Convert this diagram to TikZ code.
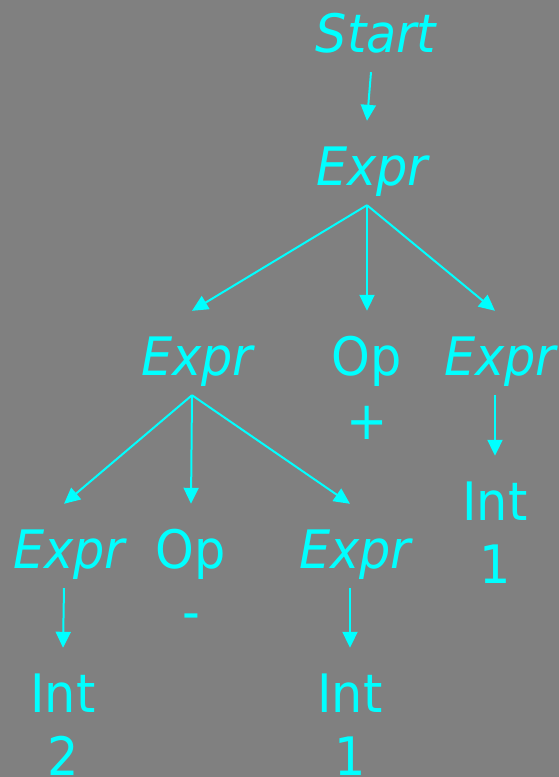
\documentclass[tikz,border=0pt]{standalone}
\usepackage{fontspec}
\setmainfont{DejaVu Sans}[FakeStretch=0.93]
\usetikzlibrary{arrows.meta}
\definecolor{bg}{HTML}{808080}
\definecolor{ink}{HTML}{00FFFF}
\begin{document}
\begin{tikzpicture}[x=1pt,y=-1pt,
  lbl/.style={anchor=base, inner xsep=0pt, inner ysep=20pt, text height=44pt,
    text depth=0pt, text=ink, font=\fontsize{53}{63}\selectfont},
  % slanted labels sit a little right of their edge anchor
  nterm/.style={lbl, font=\fontsize{53}{63}\selectfont\itshape,
    execute at begin node=\hspace*{10pt}},
  edge/.style={draw=ink, line width=2pt, -{Triangle[length=16pt,width=15pt]}}]
\useasboundingbox (0,0) rectangle (559,777);
\fill[bg] (0,0) rectangle (559,777);

% parse tree nodes
\node[nterm] (start) at (371,52)  {Start};
\node[nterm] (e1)    at (367,185) {Expr};
\node[nterm] (e2)    at (192,375) {Expr};
\node[lbl]   (op1)   at (367,375) {Op};
\node[lbl]   (plus)  at (367,439) {+};
\node[nterm] (e3)    at (495,375) {Expr};
\node[lbl]   (int3)  at (495,520) {Int};
\node[lbl]   (one3)  at (495,583) {1};
\node[nterm] (e4)    at (64,568)  {Expr};
\node[lbl]   (op2)   at (191,568) {Op};
\node[lbl]   (minus) at (191,630) {-};
\node[nterm] (e5)    at (350,568) {Expr};
\node[lbl]   (int4)  at (63,712)  {Int};
\node[lbl]   (two)   at (63,775)  {2};
\node[lbl]   (int5)  at (350,712) {Int};
\node[lbl]   (one5)  at (350,775) {1};

% derivation edges
\draw[edge] (start.south) -- (e1.north);
\draw[edge] (e1.south) -- (e2.north);
\draw[edge] (e1.south) -- (op1.north);
\draw[edge] (e1.south) -- (e3.north);
\draw[edge] (e2.south) -- (e4.north);
\draw[edge] (e2.south) -- (op2.north);
\draw[edge] (e2.south) -- (e5.north);
\draw[edge] (e3.south) -- (int3.north);
\draw[edge] (e4.south) -- (int4.north);
\draw[edge] (e5.south) -- (int5.north);
\end{tikzpicture}
\end{document}
